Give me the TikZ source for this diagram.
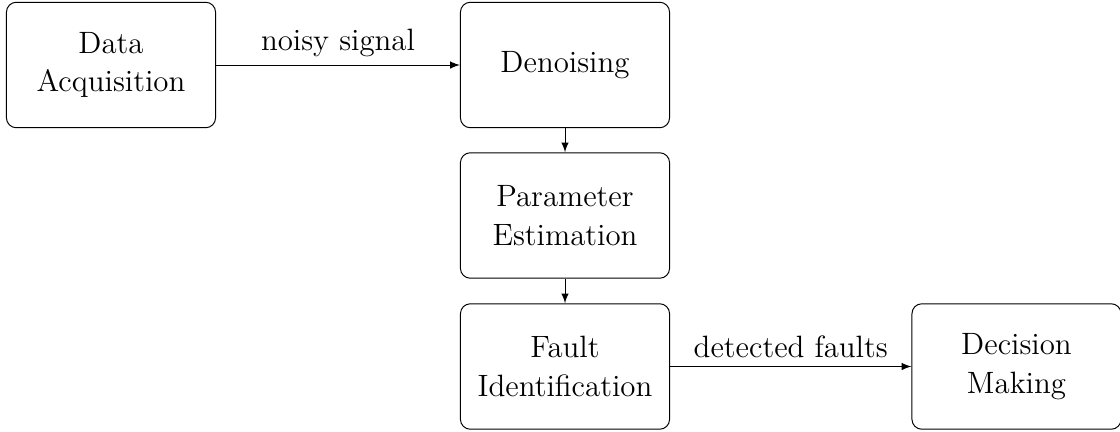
\documentclass[tikz,border=0pt]{standalone}
\usetikzlibrary{arrows}
\begin{document}
\begin{tikzpicture}[x=0.4083pt,y=-0.4083pt,
  blockbox/.style={draw,rounded corners=4pt,minimum width=3cm,minimum height=1.8cm,align=center,font=\fontsize{12.6}{15.8}\selectfont},
  flow/.style={-latex},
  lbl/.style={font=\fontsize{12.6}{15.8}\selectfont}]
\useasboundingbox (0,0) rectangle (1120,431);
\node[blockbox] (da) at (111,65) {Data\\Acquisition};
\node[blockbox] (dn) at (565,65) {Denoising};
\node[blockbox] (pe) at (565,215.5) {Parameter\\Estimation};
\node[blockbox] (fi) at (565,366.5) {Fault\\Identification};
\node[blockbox] (dm) at (1016.5,366.5) {Decision\\Making};
\draw[flow] (da) -- node[lbl,above] {noisy signal} (dn);
\draw[flow] (dn) -- (pe);
\draw[flow] (pe) -- (fi);
\draw[flow] (fi) -- node[lbl,above] {detected faults} (dm);
\end{tikzpicture}
\end{document}
